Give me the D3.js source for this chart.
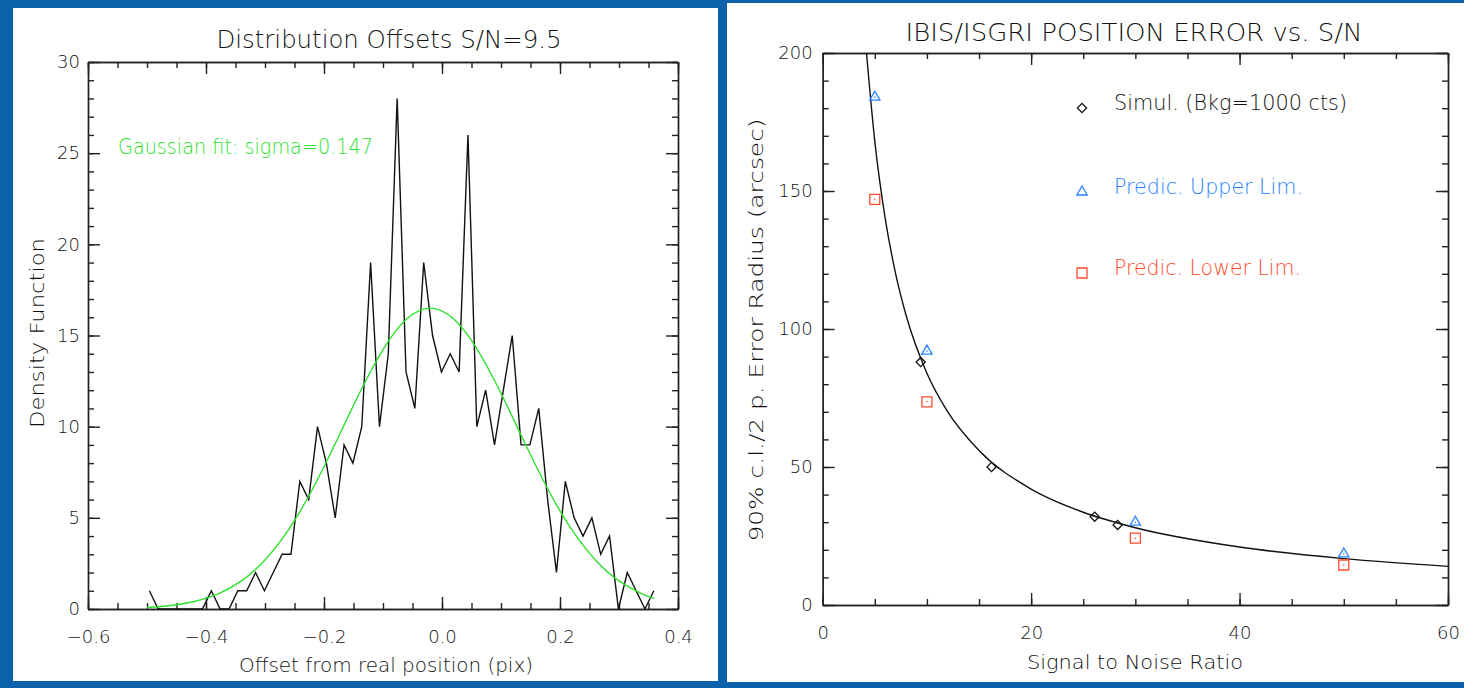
<!DOCTYPE html>
<meta charset="utf-8">
<style>
    body { margin: 0; background: #0b62ab; }
    svg { display: block; }
    text { font-family: "DejaVu Sans", "Liberation Sans", sans-serif; font-weight: 200; fill: #111; }
    .domain, .tick line { stroke: #222; stroke-width: 1.4; }
    .tick text { font-size: 18px; }
    .line { fill: none; stroke-width: 1.4; }
</style>
<svg width="1464" height="688"></svg>
<script src="https://d3js.org/d3.v7.min.js"></script>
<script>
    // left panel: distribution of offsets at S/N = 9.5
    var offsetX = [-0.496, -0.481, -0.466, -0.451, -0.436, -0.421, -0.406, -0.391, -0.376, -0.361,
        -0.346, -0.331, -0.316, -0.301, -0.286, -0.271, -0.256, -0.241, -0.226, -0.211,
        -0.196, -0.181, -0.166, -0.151, -0.136, -0.121, -0.106, -0.091, -0.076, -0.061,
        -0.046, -0.031, -0.016, -0.001, 0.014, 0.029, 0.044, 0.059, 0.074, 0.089,
        0.104, 0.119, 0.134, 0.149, 0.164, 0.179, 0.194, 0.209, 0.224, 0.239,
        0.254, 0.269, 0.284, 0.299, 0.314, 0.329, 0.344, 0.359];
    var density = [1, 0, 0, 0, 0, 0, 0, 1, 0, 0,
        1, 1, 2, 1, 2, 3, 3, 7, 6, 10,
        8, 5, 9, 8, 10, 19, 10, 14, 28, 13,
        11, 19, 15, 13, 14, 13, 26, 10, 12, 9,
        12, 15, 9, 9, 11, 6, 2, 7, 5, 4,
        5, 3, 4, 0, 2, 1, 0, 1];
    // green gaussian fit
    var fitX = [-0.50, -0.46, -0.42, -0.38, -0.34, -0.30, -0.26, -0.22, -0.18, -0.14, -0.10, -0.06,
        -0.02, 0.02, 0.06, 0.10, 0.14, 0.18, 0.22, 0.26, 0.30, 0.34, 0.36];
    var fitY = [0.08, 0.19, 0.41, 0.82, 1.54, 2.69, 4.35, 6.54, 9.13, 11.83, 14.23, 15.90,
        16.5, 15.90, 14.23, 11.83, 9.13, 6.54, 4.35, 2.69, 1.54, 0.82, 0.58];
    var xTicksL = [-0.6, -0.4, -0.2, 0.0, 0.2, 0.4];
    var yTicksL = [0, 5, 10, 15, 20, 25, 30];

    // right panel: position error vs S/N
    var snrSimul = [9.4, 16.2, 26.1, 28.3];
    var errSimul = [88, 50, 32, 29];
    var snrUpper = [5, 10, 30, 50];
    var errUpper = [184, 92, 30, 18.5];
    var snrLower = [5, 10, 30, 50];
    var errLower = [147, 73.6, 24.2, 14.5];
    var curveSnr = [4.2, 5, 6, 7, 8, 10, 12, 15, 20, 25, 30, 40, 50, 60];
    var curveErr = [200, 168, 140, 120, 105, 84, 70, 56, 42, 33.6, 28, 21, 16.8, 14];
    var xTicksR = [0, 20, 40, 60];
    var yTicksR = [0, 50, 100, 150, 200];
    var legendNames = ["Simul. (Bkg=1000 cts)", "Predic. Upper Lim.", "Predic. Lower Lim."];

    var blue = "rgb(40,130,255)", red = "rgb(255,75,45)", green = "rgb(45,225,45)";

    var svg = d3.select("svg");
    svg.append("rect").attr("x", 13).attr("y", 8).attr("width", 705).attr("height", 673).attr("fill", "#fff");
    svg.append("rect").attr("x", 727).attr("y", 3).attr("width", 737).attr("height", 679).attr("fill", "#fff");

    function minorTicks(lo, hi, step) {
        var out = [];
        for (var v = lo; v <= hi + step / 2; v += step) out.push(+v.toFixed(4));
        return out;
    }

    // IDL style box: ticks on all four sides, pointing in
    function frame(g, x, y, o) {
        var xr = x.range(), yr = y.range();
        g.append("g").attr("transform", "translate(0," + yr[0] + ")")
            .call(d3.axisBottom(x).tickValues(o.xMajor).tickSize(-12).tickSizeOuter(0)
                .tickPadding(o.xPad).tickFormat(o.xFmt));
        g.append("g").attr("transform", "translate(0," + yr[0] + ")")
            .call(d3.axisBottom(x).tickValues(o.xMinor).tickSize(-6).tickSizeOuter(0).tickFormat(""));
        g.append("g").attr("transform", "translate(0," + yr[1] + ")")
            .call(d3.axisTop(x).tickValues(o.xMajor).tickSize(-12).tickSizeOuter(0).tickFormat(""));
        g.append("g").attr("transform", "translate(0," + yr[1] + ")")
            .call(d3.axisTop(x).tickValues(o.xMinor).tickSize(-6).tickSizeOuter(0).tickFormat(""));
        g.append("g").attr("transform", "translate(" + xr[0] + ",0)")
            .call(d3.axisLeft(y).tickValues(o.yMajor).tickSize(-12).tickSizeOuter(0)
                .tickPadding(o.yPad).tickFormat(o.yFmt));
        g.append("g").attr("transform", "translate(" + xr[0] + ",0)")
            .call(d3.axisLeft(y).tickValues(o.yMinor).tickSize(-6).tickSizeOuter(0).tickFormat(""));
        g.append("g").attr("transform", "translate(" + xr[1] + ",0)")
            .call(d3.axisRight(y).tickValues(o.yMajor).tickSize(-12).tickSizeOuter(0).tickFormat(""));
        g.append("g").attr("transform", "translate(" + xr[1] + ",0)")
            .call(d3.axisRight(y).tickValues(o.yMinor).tickSize(-6).tickSizeOuter(0).tickFormat(""));
        g.selectAll(".tick text").attr("fill", "#111");
    }

    function label(g, txt, x, y, size, len, anchor, color, rot) {
        var t = g.append("text")
            .attr("x", x).attr("y", y)
            .attr("text-anchor", anchor || "middle")
            .style("font-size", size + "px")
            .style("fill", color || "#111")
            .attr("textLength", len).attr("lengthAdjust", "spacingAndGlyphs")
            .text(txt);
        if (rot) t.attr("transform", "rotate(-90," + x + "," + y + ")");
        return t;
    }

    // ---------- left chart ----------
    var gl = svg.append("g");
    var xL = d3.scaleLinear().domain([-0.6, 0.4]).range([88, 678]);
    var yL = d3.scaleLinear().domain([0, 30]).range([609, 62]);

    frame(gl, xL, yL, {
        xMajor: xTicksL, xMinor: minorTicks(-0.6, 0.4, 0.05), xPad: 21, xFmt: d3.format(".1f"),
        yMajor: yTicksL, yMinor: minorTicks(0, 30, 1), yPad: 8, yFmt: d3.format("d")
    });

    var hist = offsetX.map(function (d, i) { return [d, density[i]]; });
    gl.append("path").datum(hist)
        .attr("class", "line").attr("stroke", "#111")
        .attr("d", d3.line().x(function (d) { return xL(d[0]); }).y(function (d) { return yL(d[1]); }));

    var fit = fitX.map(function (d, i) { return [d, fitY[i]]; });
    gl.append("path").datum(fit)
        .attr("class", "line").attr("stroke", green)
        .attr("d", d3.line().curve(d3.curveNatural)
            .x(function (d) { return xL(d[0]); }).y(function (d) { return yL(d[1]); }));

    label(gl, "Distribution Offsets S/N=9.5", 389, 48, 24, 345);
    label(gl, "Gaussian fit: sigma=0.147", 118, 154, 22, 255, "start", green);
    label(gl, "Offset from real position (pix)", 386, 672, 19, 294);
    label(gl, "Density Function", 44, 333, 19, 190, "middle", "#111", true);

    // ---------- right chart ----------
    var gr = svg.append("g");
    var xR = d3.scaleLinear().domain([0, 60]).range([822.7, 1448]);
    var yR = d3.scaleLinear().domain([0, 200]).range([605, 53]);

    frame(gr, xR, yR, {
        xMajor: xTicksR, xMinor: minorTicks(0, 60, 5), xPad: 21, xFmt: d3.format("d"),
        yMajor: yTicksR, yMinor: minorTicks(0, 200, 10), yPad: 10, yFmt: d3.format("d")
    });

    svg.append("clipPath").attr("id", "clipR").append("rect")
        .attr("x", 822.7).attr("y", 53).attr("width", 1448 - 822.7).attr("height", 605 - 53);

    var curve = curveSnr.map(function (d, i) { return [d, curveErr[i]]; });
    gr.append("path").datum(curve)
        .attr("class", "line").attr("stroke", "#111").attr("clip-path", "url(#clipR)")
        .attr("d", d3.line().curve(d3.curveMonotoneX)
            .x(function (d) { return xR(d[0]); }).y(function (d) { return yR(d[1]); }));

    var diamond = d3.symbol().type(d3.symbolSquare).size(42)();
    var triangle = d3.symbol().type(d3.symbolTriangle).size(46)();
    var square = d3.symbol().type(d3.symbolSquare).size(100)();

    function markers(data, path, color, rot, dot) {
        var m = gr.selectAll(null).data(data).enter().append("g")
            .attr("transform", function (d) { return "translate(" + xR(d[0]) + "," + yR(d[1]) + ")"; });
        m.append("path").attr("d", path).attr("fill", "none").attr("stroke", color)
            .attr("stroke-width", 1.3).attr("transform", rot ? "rotate(45)" : null);
        if (dot) m.append("circle").attr("r", 0.8).attr("fill", color);
    }
    markers(snrSimul.map(function (d, i) { return [d, errSimul[i]]; }), diamond, "#111", true, false);
    markers(snrUpper.map(function (d, i) { return [d, errUpper[i]]; }), triangle, blue, false, true);
    markers(snrLower.map(function (d, i) { return [d, errLower[i]]; }), square, red, false, true);

    // legend
    var legY = [108, 192, 273], legCol = ["#111", blue, red], legPath = [diamond, triangle, square];
    var legLen = [233, 189, 187];
    legendNames.forEach(function (name, i) {
        gr.append("path").attr("d", legPath[i])
            .attr("transform", "translate(1082," + legY[i] + ")" + (i === 0 ? " rotate(45)" : ""))
            .attr("fill", "none").attr("stroke", legCol[i]).attr("stroke-width", 1.3);
        label(gr, name, 1114, legY[i] + 2, 22, legLen[i], "start", legCol[i]);
    });

    label(gr, "IBIS/ISGRI POSITION ERROR vs. S/N", 1134, 41, 24, 457);
    label(gr, "Signal to Noise Ratio", 1135, 669, 19, 216);
    label(gr, "90% c.l./2 p. Error Radius (arcsec)", 763, 330, 20, 423, "middle", "#111", true);
</script>
